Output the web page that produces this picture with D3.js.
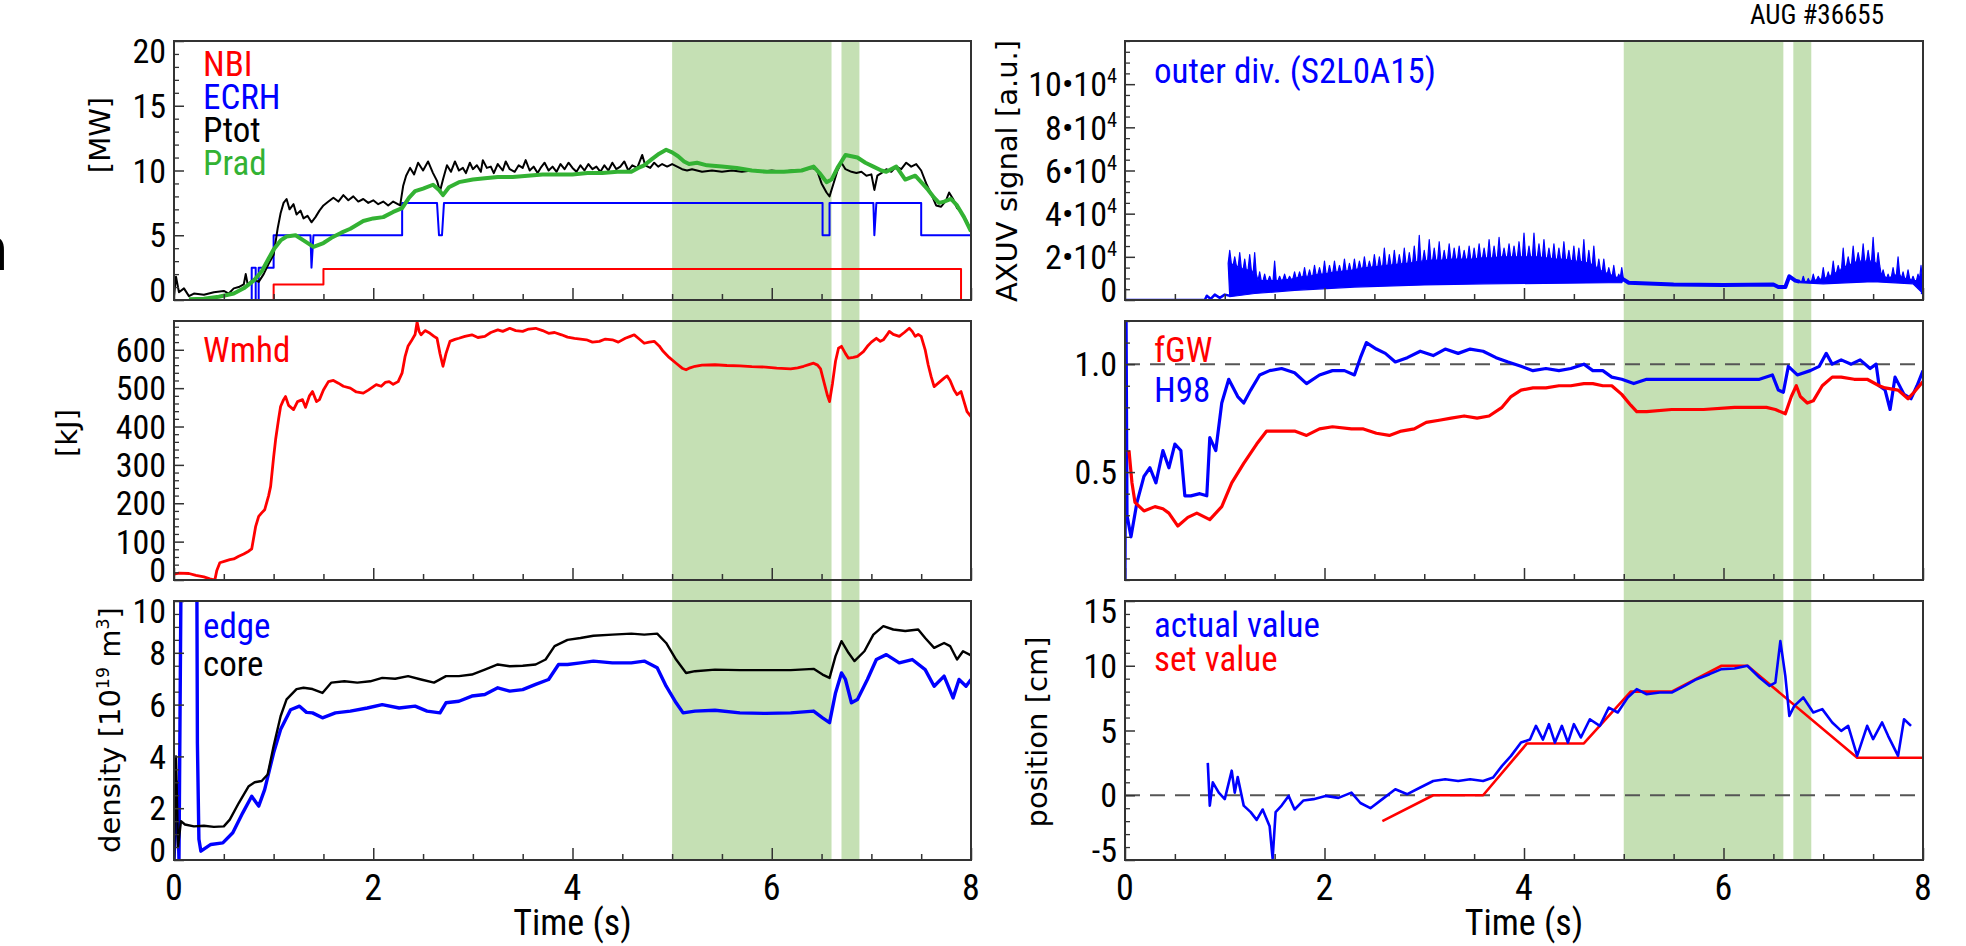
<!DOCTYPE html>
<html>
<head>
<meta charset="utf-8">
<script src="https://cdn.jsdelivr.net/npm/d3@7"></script>
<style>
  body { margin: 0; background: #fff; }
  svg text { font-family: "Liberation Sans Narrow", "Arial Narrow", "Roboto Condensed", "Liberation Sans", sans-serif; }
  svg text.axtitle { font-family: "DejaVu Sans", Verdana, sans-serif; }
</style>
</head>
<body>
<div id="chart"></div>
<script>
// ---- data ----
const timeTicks = [0, 2, 4, 6, 8];
const greenBands = [[5.0, 6.6], [6.7, 6.88]];

// panel 1: heating / radiated power [MW]
const powerTicks = [0, 5, 10, 15, 20];
const nbiPower = [[0,0],[1.0,0],[1.0,1.2],[1.5,1.2],[1.5,2.4],[7.9,2.4],[7.9,0],[8,0]];
const ecrhPower = [[0,0],[0.78,0],[0.78,2.5],[0.82,2.5],[0.82,0],[0.85,0],[0.85,2.5],[1.0,2.5],[1.0,5.0],[1.37,5.0],[1.38,2.5],[1.4,5.0],
  [2.29,5.0],[2.29,7.5],[2.64,7.5],[2.66,5.0],[2.69,5.0],[2.71,7.5],[6.51,7.5],[6.51,5.0],[6.58,5.0],[6.58,7.5],
  [7.02,7.5],[7.03,5.0],[7.05,7.5],[7.5,7.5],[7.5,5.0],[8.0,5.0]];
const ptotPower = [[0,0.3],[0.02,1.8],[0.05,0.6],[0.1,0.9],[0.15,0.3],[0.2,0.5],[0.3,0.4],[0.4,0.6],[0.5,0.7],[0.55,0.5],[0.6,0.9],
  [0.65,1.0],[0.7,1.2],[0.72,2.0],[0.74,1.2],[0.8,1.6],[0.85,1.4],[0.9,2.0],[0.95,2.8],[1.0,3.5],[1.04,5.5],[1.07,6.7],[1.1,7.5],
  [1.13,7.8],[1.16,7.0],[1.2,7.4],[1.23,6.6],[1.27,6.9],[1.3,6.3],[1.34,6.5],[1.38,6.0],[1.42,6.4],[1.46,6.9],[1.5,7.3],[1.55,7.6],
  [1.6,7.9],[1.65,7.6],[1.7,8.1],[1.75,7.7],[1.8,8.0],[1.85,7.6],[1.9,7.8],[1.95,7.5],[2.0,7.7],[2.05,7.4],[2.1,7.6],[2.15,7.3],
  [2.2,7.6],[2.27,7.3],[2.3,8.8],[2.33,9.6],[2.37,10.2],[2.41,9.7],[2.45,10.6],[2.5,10.0],[2.55,10.7],[2.6,9.8],[2.64,9.2],
  [2.67,8.4],[2.7,9.3],[2.74,10.4],[2.78,9.9],[2.82,10.7],[2.86,10.0],[2.9,10.2],[2.93,9.8],[2.97,10.6],[3.0,10.1],[3.04,10.4],
  [3.08,9.9],[3.1,10.8],[3.14,10.2],[3.18,10.3],[3.21,9.8],[3.25,10.5],[3.3,10.0],[3.33,10.7],[3.37,10.1],[3.42,9.9],[3.46,10.4],
  [3.5,10.2],[3.53,10.8],[3.57,10.0],[3.61,10.3],[3.65,9.8],[3.68,10.2],[3.72,10.6],[3.76,10.0],[3.8,10.3],[3.84,9.9],[3.88,10.5],
  [3.92,10.1],[3.96,10.6],[4.0,10.2],[4.04,9.9],[4.08,10.4],[4.12,10.0],[4.16,10.5],[4.2,10.1],[4.24,10.3],[4.28,9.9],[4.32,10.4],
  [4.36,10.0],[4.4,10.6],[4.44,10.1],[4.48,10.3],[4.52,10.7],[4.56,10.0],[4.6,10.4],[4.65,10.2],[4.7,11.2],[4.73,10.4],
  [4.78,10.2],[4.82,10.6],[4.86,10.3],[4.9,10.5],[4.95,10.3],[5.0,10.5],[5.05,10.3],[5.1,10.1],[5.15,10.0],[5.2,10.1],[5.3,9.9],
  [5.4,10.0],[5.5,9.9],[5.6,10.0],[5.7,9.9],[5.8,10.0],[5.9,9.9],[6.0,10.0],[6.1,9.9],[6.2,10.0],[6.3,10.0],[6.4,10.2],[6.45,10.1],
  [6.5,9.0],[6.55,8.3],[6.58,8.0],[6.62,9.0],[6.66,10.0],[6.7,10.6],[6.74,10.1],[6.8,9.9],[6.85,9.8],[6.9,9.9],[6.95,9.6],[7.0,9.7],
  [7.03,8.5],[7.06,9.6],[7.1,9.8],[7.15,10.1],[7.2,9.9],[7.25,10.3],[7.3,10.1],[7.35,10.6],[7.4,10.3],[7.45,10.5],[7.5,10.0],
  [7.55,9.0],[7.6,8.2],[7.65,7.3],[7.7,7.2],[7.75,7.7],[7.78,8.3],[7.82,7.8],[7.86,7.1],[7.9,6.8],[7.95,6.2],[8.0,5.4]];
const pradPower = [[0.15,0.05],[0.3,0.1],[0.45,0.25],[0.6,0.5],[0.7,0.9],[0.8,1.5],[0.88,2.2],[0.95,3.2],[1.0,3.9],[1.07,4.6],
  [1.13,4.9],[1.22,5.0],[1.3,4.6],[1.4,4.1],[1.5,4.4],[1.58,4.8],[1.68,5.2],[1.77,5.5],[1.9,6.1],[2.0,6.3],[2.1,6.4],[2.2,6.8],
  [2.29,7.1],[2.36,7.9],[2.42,8.4],[2.5,8.6],[2.6,8.9],[2.66,8.5],[2.7,8.1],[2.76,8.7],[2.86,9.1],[3.0,9.3],[3.12,9.4],[3.25,9.5],
  [3.4,9.5],[3.55,9.6],[3.7,9.7],[3.85,9.7],[4.0,9.7],[4.15,9.8],[4.3,9.8],[4.45,9.9],[4.59,9.9],[4.66,10.2],[4.72,10.4],[4.8,10.9],
  [4.87,11.3],[4.94,11.6],[5.0,11.4],[5.06,11.1],[5.12,10.7],[5.17,10.5],[5.25,10.6],[5.35,10.4],[5.5,10.3],[5.65,10.2],[5.8,10.0],
  [5.95,9.9],[6.12,9.9],[6.3,10.0],[6.42,10.3],[6.48,9.8],[6.55,9.1],[6.6,9.3],[6.66,10.2],[6.74,11.2],[6.8,11.1],[6.86,11.0],
  [6.94,10.6],[7.02,10.3],[7.1,10.0],[7.15,9.9],[7.25,10.3],[7.34,9.3],[7.44,9.6],[7.5,9.1],[7.57,8.5],[7.63,7.9],[7.68,7.5],
  [7.73,7.6],[7.8,7.8],[7.86,7.3],[7.93,6.4],[8.0,5.3]];

// panel 2: stored energy [kJ]
const wmhdTicks = [0, 100, 200, 300, 400, 500, 600];
const wmhdEnergy = [[0,15],[0.05,18],[0.15,17],[0.22,12],[0.3,8],[0.36,3],[0.41,0],[0.43,25],[0.46,45],[0.52,50],[0.56,53],
  [0.6,55],[0.65,62],[0.7,68],[0.75,75],[0.78,81],[0.82,140],[0.85,166],[0.88,175],[0.91,183],[0.95,220],[0.97,244],[1.0,320],
  [1.02,366],[1.05,420],[1.07,452],[1.1,470],[1.12,478],[1.15,455],[1.2,444],[1.24,465],[1.29,470],[1.32,450],[1.36,480],
  [1.39,491],[1.43,465],[1.46,470],[1.5,495],[1.55,517],[1.6,520],[1.65,513],[1.7,505],[1.77,500],[1.83,490],[1.9,487],
  [1.95,495],[2.03,509],[2.08,505],[2.12,515],[2.16,517],[2.2,510],[2.25,517],[2.29,540],[2.32,583],[2.35,610],[2.38,622],
  [2.42,640],[2.44,672],[2.46,648],[2.48,639],[2.52,650],[2.57,643],[2.61,635],[2.64,630],[2.67,590],[2.7,557],[2.73,590],
  [2.77,622],[2.82,627],[2.86,630],[2.92,635],[2.99,639],[3.05,632],[3.12,635],[3.18,645],[3.25,652],[3.3,648],[3.37,656],
  [3.43,650],[3.5,648],[3.56,654],[3.63,656],[3.7,650],[3.76,643],[3.82,645],[3.89,639],[3.95,633],[4.02,630],[4.08,628],
  [4.14,626],[4.2,620],[4.27,622],[4.33,628],[4.4,626],[4.46,620],[4.53,630],[4.58,635],[4.62,639],[4.67,628],[4.72,617],
  [4.77,620],[4.82,622],[4.87,610],[4.91,596],[4.97,580],[5.04,565],[5.1,552],[5.14,548],[5.18,553],[5.23,557],[5.3,560],
  [5.43,561],[5.55,559],[5.68,558],[5.8,556],[5.94,555],[6.05,552],[6.19,550],[6.26,553],[6.32,557],[6.38,562],[6.42,565],
  [6.46,560],[6.49,550],[6.53,510],[6.56,480],[6.58,465],[6.61,513],[6.64,570],[6.67,604],[6.7,609],[6.74,590],[6.77,578],
  [6.82,580],[6.86,583],[6.92,595],[6.96,609],[7.0,620],[7.05,630],[7.09,622],[7.12,626],[7.16,640],[7.18,648],[7.22,640],
  [7.28,635],[7.33,645],[7.38,656],[7.41,648],[7.44,635],[7.47,640],[7.5,635],[7.54,600],[7.57,561],[7.6,530],[7.63,504],
  [7.68,515],[7.73,526],[7.76,532],[7.79,520],[7.83,495],[7.86,483],[7.9,491],[7.93,465],[7.96,439],[8.0,426]];

// panel 3: density [1e19 m^-3]
const densTicks = [0, 2, 4, 6, 8, 10];
const coreDensity = [[0,0],[0.02,4.0],[0.04,0.5],[0.07,1.5],[0.11,1.37],[0.2,1.3],[0.3,1.32],[0.4,1.28],[0.5,1.3],[0.56,1.56],
  [0.65,2.2],[0.75,2.85],[0.81,3.0],[0.88,3.05],[0.94,3.3],[1.0,4.4],[1.07,5.55],[1.13,6.2],[1.23,6.6],[1.3,6.65],[1.39,6.6],
  [1.49,6.45],[1.58,6.85],[1.71,6.9],[1.84,6.85],[1.97,6.9],[2.09,7.03],[2.22,7.0],[2.35,7.1],[2.48,6.97],[2.61,6.85],[2.73,7.1],
  [2.86,7.1],[2.99,7.16],[3.12,7.35],[3.25,7.55],[3.37,7.48],[3.5,7.5],[3.63,7.55],[3.73,7.74],[3.82,8.26],[3.95,8.5],[4.08,8.57],
  [4.21,8.66],[4.4,8.7],[4.59,8.74],[4.72,8.7],[4.85,8.74],[4.94,8.38],[5.04,7.74],[5.14,7.22],[5.23,7.29],[5.43,7.35],[5.68,7.33],
  [5.94,7.33],[6.19,7.33],[6.42,7.38],[6.51,7.16],[6.58,7.03],[6.64,7.87],[6.7,8.45],[6.77,8.0],[6.83,7.68],[6.93,8.06],[7.02,8.7],
  [7.12,9.03],[7.22,8.9],[7.34,8.84],[7.47,8.9],[7.54,8.57],[7.63,8.19],[7.73,8.38],[7.79,8.26],[7.86,7.74],[7.92,8.06],[8.0,7.9]];
const edgeDensity = [[0,0],[0.03,3.0],[0.05,0],[0.07,10.6],[0.08,11],[0.22,11],[0.23,10.2],[0.235,4.5],[0.25,0.8],[0.27,0.34],
  [0.37,0.6],[0.49,0.66],[0.59,1.05],[0.69,1.82],[0.78,2.46],[0.85,2.08],[0.91,2.72],[1.0,4.14],[1.07,5.04],[1.17,5.8],[1.26,5.94],
  [1.33,5.7],[1.39,5.68],[1.49,5.49],[1.62,5.68],[1.77,5.75],[1.94,5.87],[2.09,6.0],[2.26,5.87],[2.42,5.94],[2.54,5.75],[2.67,5.68],
  [2.73,6.07],[2.86,6.13],[2.99,6.33],[3.12,6.39],[3.25,6.65],[3.37,6.52],[3.5,6.58],[3.63,6.78],[3.76,6.97],[3.86,7.55],[3.95,7.55],
  [4.08,7.61],[4.21,7.68],[4.4,7.61],[4.59,7.61],[4.72,7.68],[4.85,7.42],[4.94,6.71],[5.04,6.07],[5.11,5.68],[5.23,5.75],[5.43,5.78],
  [5.68,5.68],[5.94,5.66],[6.19,5.68],[6.42,5.75],[6.51,5.49],[6.58,5.3],[6.64,6.45],[6.7,7.22],[6.74,6.97],[6.8,6.07],[6.86,6.2],
  [6.96,6.97],[7.05,7.74],[7.15,7.93],[7.28,7.61],[7.41,7.74],[7.54,7.35],[7.63,6.71],[7.73,7.1],[7.82,6.26],[7.88,6.97],[7.95,6.71],[8.0,6.97]];

// panel 4: AXUV outer divertor signal, in units of 1e4
const axuvTicks = [0, 2, 4, 6, 8, 10];
const axuvTickLabels = ["0", "2•10^4", "4•10^4", "6•10^4", "8•10^4", "10•10^4"];
const axuvQuiet = [[0,0],[0.8,0],[0.82,0.2],[0.86,0.05],[0.9,0.25],[0.95,0.1],[1.0,0.25],[1.05,0.2]];
const axuvQuietLate = [[4.98,1.0],[5.05,0.8],[5.5,0.72],[6.0,0.7],[6.5,0.72],[6.55,0.6],[6.62,0.6],[6.66,1.1],[6.72,0.9],[6.76,0.85]];
// [time, spike top, top of the dense part]
const axuvSpikesEarly = [[1.05,2.3,1.7],[1.1,2.0,1.6],[1.15,2.2,1.5],[1.2,1.9,1.4],[1.25,2.1,1.4],[1.3,2.2,1.2],[1.35,1.3,0.9],
  [1.4,1.2,0.9],[1.45,1.1,0.9],[1.5,1.8,0.9],[1.55,1.1,0.9],[1.6,1.2,0.95],[1.65,1.1,0.95],[1.7,1.3,1.0],[1.75,1.3,1.05],
  [1.8,1.5,1.1],[1.85,1.4,1.1],[1.9,1.6,1.15],[1.95,1.5,1.2],[2.0,1.8,1.2],[2.05,1.6,1.25],[2.1,1.8,1.3],[2.15,1.6,1.3],
  [2.2,1.9,1.35],[2.25,1.7,1.35],[2.3,1.9,1.4],[2.35,1.8,1.45],[2.4,2.0,1.5],[2.45,1.8,1.5],[2.5,2.1,1.55],[2.55,2.0,1.55],
  [2.6,2.4,1.6],[2.65,2.1,1.6],[2.7,2.3,1.65],[2.75,2.1,1.65],[2.8,2.4,1.7],[2.85,2.2,1.7],[2.9,2.5,1.75],[2.95,3.0,1.8],
  [3.0,2.3,1.8],[3.05,2.8,1.85],[3.1,2.4,1.85],[3.15,2.7,1.85],[3.2,2.3,1.85],[3.25,2.6,1.9],[3.3,2.4,1.9],[3.35,2.5,1.9],
  [3.4,2.3,1.9],[3.45,2.5,1.9],[3.5,2.4,1.9],[3.55,2.6,1.95],[3.6,2.4,1.95],[3.65,2.8,1.95],[3.7,2.5,1.95],[3.75,2.9,2.0],
  [3.8,2.4,2.0],[3.85,2.6,2.0],[3.9,2.5,2.0],[3.95,2.7,2.0],[4.0,3.1,2.0],[4.05,2.5,2.0],[4.1,3.1,2.0],[4.15,2.6,2.0],
  [4.2,2.8,1.95],[4.25,2.4,1.95],[4.3,2.6,1.9],[4.35,2.4,1.9],[4.4,2.7,1.9],[4.45,2.3,1.85],[4.5,2.5,1.8],[4.55,2.4,1.8],
  [4.6,2.8,1.75],[4.65,2.3,1.7],[4.7,2.5,1.6],[4.75,1.9,1.4],[4.8,1.9,1.3],[4.85,1.5,1.2],[4.9,1.6,1.1],[4.95,1.2,1.0],[4.98,1.5,1.0]];
const axuvFloorEarly = [[1.05,0.15],[1.3,0.3],[1.7,0.45],[2.3,0.6],[3.0,0.7],[3.6,0.75],[4.2,0.77],[4.85,0.8],[4.98,0.8]];
const axuvSpikesLate = [[6.76,0.9,0.85],[6.8,1.1,0.85],[6.85,1.0,0.85],[6.9,1.2,0.9],[6.95,1.1,0.95],[7.0,1.5,1.0],[7.05,1.3,1.05],
  [7.1,1.8,1.2],[7.15,1.6,1.3],[7.2,2.4,1.5],[7.25,2.0,1.6],[7.3,2.5,1.7],[7.35,2.2,1.8],[7.4,2.6,1.8],[7.45,2.3,1.8],[7.5,2.9,1.8],
  [7.55,2.2,1.6],[7.6,1.4,1.1],[7.65,1.2,1.0],[7.7,1.5,1.1],[7.75,2.0,1.2],[7.8,1.3,1.0],[7.85,1.4,1.0],[7.9,1.1,0.9],[7.95,1.2,0.9],
  [7.98,1.6,0.9],[8.0,0.3,0.3]];
const axuvFloorLate = [[6.76,0.8],[7.0,0.75],[7.5,0.85],[7.9,0.75],[8.0,0.3]];

// panel 5: Greenwald fraction and confinement factor
const confTicks = [0.5, 1.0];
const confTickLabels = ["0.5", "1.0"];
const fgwFraction = [[0.04,0.6],[0.07,0.45],[0.1,0.36],[0.19,0.32],[0.3,0.34],[0.38,0.33],[0.44,0.31],[0.53,0.25],[0.63,0.29],
  [0.72,0.31],[0.85,0.28],[0.97,0.34],[1.07,0.45],[1.19,0.54],[1.32,0.63],[1.42,0.69],[1.57,0.69],[1.7,0.69],[1.82,0.67],[1.95,0.7],
  [2.08,0.71],[2.27,0.7],[2.39,0.7],[2.52,0.68],[2.65,0.67],[2.77,0.69],[2.9,0.7],[3.02,0.73],[3.15,0.74],[3.27,0.75],[3.4,0.76],
  [3.53,0.75],[3.65,0.76],[3.78,0.8],[3.87,0.85],[3.97,0.88],[4.09,0.89],[4.22,0.89],[4.35,0.9],[4.47,0.9],[4.6,0.91],[4.69,0.91],
  [4.79,0.9],[4.88,0.9],[4.98,0.86],[5.07,0.81],[5.13,0.78],[5.23,0.78],[5.48,0.79],[5.8,0.79],[6.11,0.8],[6.43,0.8],[6.52,0.79],
  [6.62,0.77],[6.68,0.85],[6.73,0.9],[6.77,0.85],[6.84,0.82],[6.9,0.83],[6.99,0.9],[7.09,0.94],[7.18,0.94],[7.31,0.93],[7.44,0.93],
  [7.56,0.9],[7.62,0.89],[7.75,0.88],[7.85,0.84],[7.91,0.87],[8.0,0.92]];
const h98Factor = [[0.0,0.0],[0.01,1.3],[0.02,0.3],[0.06,0.2],[0.12,0.36],[0.19,0.48],[0.25,0.52],[0.31,0.45],[0.38,0.6],[0.44,0.52],
  [0.5,0.63],[0.56,0.6],[0.6,0.39],[0.66,0.39],[0.75,0.4],[0.82,0.39],[0.85,0.66],[0.91,0.6],[0.97,0.82],[1.04,0.93],[1.13,0.85],
  [1.19,0.82],[1.26,0.88],[1.35,0.95],[1.45,0.97],[1.57,0.98],[1.7,0.96],[1.82,0.91],[1.95,0.95],[2.08,0.97],[2.2,0.97],[2.3,0.95],
  [2.36,1.03],[2.42,1.1],[2.52,1.07],[2.61,1.05],[2.71,1.01],[2.83,1.03],[2.96,1.06],[3.09,1.04],[3.21,1.07],[3.34,1.05],[3.46,1.07],
  [3.59,1.06],[3.72,1.03],[3.84,1.01],[3.97,0.99],[4.09,0.97],[4.22,0.98],[4.35,0.97],[4.47,0.98],[4.6,1.0],[4.69,0.97],[4.79,0.97],
  [4.88,0.94],[4.98,0.93],[5.1,0.91],[5.23,0.93],[5.48,0.93],[5.8,0.93],[6.11,0.93],[6.36,0.93],[6.49,0.95],[6.55,0.88],[6.6,0.87],
  [6.65,0.99],[6.74,0.95],[6.87,0.97],[6.96,0.99],[7.03,1.05],[7.09,1.0],[7.18,1.02],[7.28,1.0],[7.37,1.02],[7.47,0.98],[7.53,1.0],
  [7.56,0.9],[7.62,0.88],[7.67,0.79],[7.72,0.94],[7.81,0.86],[7.88,0.84],[7.94,0.9],[8.0,0.97]];

// panel 6: strike-point position [cm]
const posTicks = [-5, 0, 5, 10, 15];
const setPosition = [[2.58,-2.0],[3.09,0],[3.59,0],[4.03,4.0],[4.6,4.0],[5.07,8.0],[5.48,8.0],[5.98,10.0],[6.24,10.0],[7.34,2.9],[8.0,2.9]];
const actualPosition = [[0.83,2.5],[0.85,-0.8],[0.88,1.0],[0.94,0.2],[1.0,-0.3],[1.07,1.9],[1.1,0.2],[1.13,1.4],[1.19,-0.8],
  [1.26,-1.3],[1.32,-1.9],[1.38,-1.1],[1.45,-2.4],[1.48,-4.9],[1.51,-1.3],[1.57,-0.8],[1.64,-0.05],[1.7,-1.1],[1.79,-0.4],[1.89,-0.3],
  [2.01,-0.05],[2.14,-0.2],[2.27,0.2],[2.36,-0.6],[2.46,-1.0],[2.58,-0.3],[2.71,0.46],[2.83,0.08],[2.96,0.6],[3.09,1.1],[3.21,1.24],
  [3.34,1.1],[3.46,1.24],[3.59,1.1],[3.69,1.37],[3.78,2.27],[3.87,3.04],[3.97,4.07],[4.06,4.3],[4.12,5.36],[4.19,4.3],[4.25,5.49],
  [4.31,4.07],[4.38,5.36],[4.44,4.07],[4.5,5.49],[4.57,4.46],[4.66,5.87],[4.76,5.36],[4.85,6.77],[4.94,6.39],[5.04,7.55],[5.13,8.19],
  [5.23,7.8],[5.36,7.93],[5.48,7.93],[5.61,8.45],[5.73,8.96],[5.86,9.35],[5.98,9.74],[6.11,9.79],[6.24,10.0],[6.36,9.09],[6.46,8.45],
  [6.52,8.7],[6.57,11.9],[6.62,9.2],[6.66,6.13],[6.71,6.9],[6.8,7.55],[6.9,6.39],[6.99,6.65],[7.09,5.62],[7.18,4.97],[7.25,5.36],
  [7.34,3.04],[7.44,5.36],[7.5,4.33],[7.59,5.62],[7.65,4.59],[7.75,3.04],[7.81,5.87],[7.88,5.36]];

// ---- layout ----
const RED = "#ff0000", BLUE = "#0000ff", BLACK = "#000000", GREEN = "#33b233";
const BAND_COLOR = "#c5e0b4";
const colX = [[174, 971], [1125, 1923]];
const rowY = [[41, 300], [321, 580], [601, 860]];
const TICK_FS = 34, LEGEND_FS = 35, TIME_FS = 36, TITLE_FS = 29;

const svg = d3.select("#chart").append("svg")
  .attr("width", 1966).attr("height", 946);

const xScales = colX.map(r => d3.scaleLinear().domain([0, 8]).range(r));

// green shaded time windows, spanning the whole column
xScales.forEach(x => {
  svg.append("g").selectAll("rect")
    .data(greenBands)
    .join("rect")
    .attr("x", d => x(d[0]))
    .attr("width", d => x(d[1]) - x(d[0]))
    .attr("y", rowY[0][0])
    .attr("height", rowY[2][1] - rowY[0][0])
    .attr("fill", BAND_COLOR);
});

const panels = [
  { id: 1, col: 0, row: 0, domain: [0, 20], ticks: powerTicks, minor: 1, refLine: 0,
    title: ["[MW]"], titlePos: [100, 135],
    legend: [["NBI", RED], ["ECRH", BLUE], ["Ptot", BLACK], ["Prad", GREEN]], legendY: [76, 109, 142, 175],
    series: [
      { data: nbiPower, color: RED, width: 2 },
      { data: ecrhPower, color: BLUE, width: 2 },
      { data: ptotPower, color: BLACK, width: 2 },
      { data: pradPower, color: GREEN, width: 4 }
    ] },
  { id: 2, col: 0, row: 1, domain: [0, 675], ticks: wmhdTicks, minor: 20, refLine: 0,
    title: ["[kJ]"], titlePos: [67, 433],
    legend: [["Wmhd", RED]], legendY: [362],
    series: [{ data: wmhdEnergy, color: RED, width: 2.8 }] },
  { id: 3, col: 0, row: 2, domain: [0, 10], ticks: densTicks, minor: 0.5, refLine: 0,
    title: ["density [10", "^19", " m", "^3", "]"], titlePos: [110, 730],
    legend: [["edge", BLUE], ["core", BLACK]], legendY: [638, 676],
    series: [
      { data: edgeDensity, color: BLUE, width: 3.4 },
      { data: coreDensity, color: BLACK, width: 2.4 }
    ] },
  { id: 4, col: 1, row: 0, domain: [0, 12], ticks: axuvTicks, tickLabels: axuvTickLabels, minor: 0.5, refLine: 0,
    title: ["AXUV signal [a.u.]"], titlePos: [1007, 171],
    legend: [["outer div. (S2L0A15)", BLUE]], legendY: [83],
    spikes: [
      { peaks: axuvSpikesEarly, floor: axuvFloorEarly, color: BLUE },
      { peaks: axuvSpikesLate, floor: axuvFloorLate, color: BLUE }
    ],
    series: [
      { data: axuvQuiet, color: BLUE, width: 2.5 },
      { data: axuvQuietLate, color: BLUE, width: 4 }
    ] },
  { id: 5, col: 1, row: 1, domain: [0, 1.2], ticks: confTicks, tickLabels: confTickLabels, minor: 0.1, refLine: 1.0,
    title: null,
    legend: [["fGW", RED], ["H98", BLUE]], legendY: [362, 402],
    series: [
      { data: h98Factor, color: BLUE, width: 3.2 },
      { data: fgwFraction, color: RED, width: 3.2 }
    ] },
  { id: 6, col: 1, row: 2, domain: [-5, 15], ticks: posTicks, minor: 1, refLine: 0,
    title: ["position [cm]"], titlePos: [1037, 732],
    legend: [["actual value", BLUE], ["set value", RED]], legendY: [637, 671],
    series: [
      { data: setPosition, color: RED, width: 2.6 },
      { data: actualPosition, color: BLUE, width: 2.6 }
    ] }
];

// text with "^" marking a superscript part
function writeRich(sel, parts, fs) {
  let raised = false;
  parts.forEach(p => {
    if (p.startsWith("^")) {
      sel.append("tspan").attr("font-size", fs * 0.6).attr("dy", -fs * 0.38).text(p.slice(1));
      raised = true;
    } else {
      const t = sel.append("tspan").attr("font-size", fs).text(p);
      if (raised) { t.attr("dy", fs * 0.38); raised = false; }
    }
  });
}

panels.forEach(p => {
  const x = xScales[p.col];
  const [top, bottom] = rowY[p.row];
  const [left, right] = x.range();
  const y = d3.scaleLinear().domain(p.domain).range([bottom, top]);
  const g = svg.append("g");

  svg.append("clipPath").attr("id", "clip" + p.id)
    .append("rect")
    .attr("x", left).attr("y", top)
    .attr("width", right - left).attr("height", bottom - top);

  const plot = g.append("g").attr("clip-path", `url(#clip${p.id})`);

  // dashed reference line
  plot.append("line")
    .attr("x1", left).attr("x2", right)
    .attr("y1", y(p.refLine)).attr("y2", y(p.refLine))
    .attr("stroke", "#555").attr("stroke-width", 2)
    .attr("stroke-dasharray", "15,10");

  // spiky filled signal: dense part plus narrow spikes on top
  (p.spikes || []).forEach(a => {
    const pts = [];
    a.peaks.forEach(d => {
      pts.push([x(d[0] - 0.016), y(d[2])]);
      pts.push([x(d[0]), y(d[1])]);
      pts.push([x(d[0] + 0.016), y(d[2])]);
    });
    a.floor.slice().reverse().forEach(d => pts.push([x(d[0]), y(d[1])]));
    plot.append("path")
      .attr("d", d3.line()(pts) + "Z")
      .attr("fill", a.color)
      .attr("stroke", a.color)
      .attr("stroke-width", 1.2)
      .attr("stroke-linejoin", "round");
  });

  const line = d3.line().x(d => x(d[0])).y(d => y(d[1]));
  p.series.forEach(s => {
    plot.append("path")
      .datum(s.data)
      .attr("d", line)
      .attr("fill", "none")
      .attr("stroke", s.color)
      .attr("stroke-width", s.width)
      .attr("stroke-linejoin", "round");
  });

  // x ticks, pointing into the panel
  const minorT = d3.range(0.5, 8, 0.5).filter(t => t % 2 !== 0);
  g.append("g")
    .attr("transform", `translate(0,${bottom})`)
    .call(d3.axisBottom(x).tickValues(minorT).tickSize(-6).tickFormat(""))
    .call(a => a.select(".domain").remove())
    .call(a => a.selectAll("line").attr("stroke", "#333").attr("stroke-width", 1.5));
  g.append("g")
    .attr("transform", `translate(0,${bottom})`)
    .call(d3.axisBottom(x).tickValues(timeTicks).tickSize(-12).tickFormat(""))
    .call(a => a.select(".domain").remove())
    .call(a => a.selectAll("line").attr("stroke", "#333").attr("stroke-width", 1.5));

  // y ticks
  const minorY = d3.range(p.domain[0], p.domain[1] + 1e-9, p.minor)
    .filter(v => !p.ticks.some(t => Math.abs(t - v) < 1e-9));
  g.append("g")
    .attr("transform", `translate(${left},0)`)
    .call(d3.axisLeft(y).tickValues(minorY).tickSize(-5).tickFormat(""))
    .call(a => a.select(".domain").remove())
    .call(a => a.selectAll("line").attr("stroke", "#333").attr("stroke-width", 1.3));
  g.append("g")
    .attr("transform", `translate(${left},0)`)
    .call(d3.axisLeft(y).tickValues(p.ticks).tickSize(-10).tickFormat(""))
    .call(a => a.select(".domain").remove())
    .call(a => a.selectAll("line").attr("stroke", "#333").attr("stroke-width", 1.5));

  // frame
  g.append("rect")
    .attr("x", left).attr("y", top)
    .attr("width", right - left).attr("height", bottom - top)
    .attr("fill", "none").attr("stroke", "#333").attr("stroke-width", 2);

  // y tick labels, kept inside the panel's height
  p.ticks.forEach((t, i) => {
    const cy = Math.min(Math.max(y(t), top + 10), bottom - 10);
    const label = p.tickLabels ? p.tickLabels[i] : String(t);
    const txt = g.append("text")
      .attr("x", left - 8).attr("y", cy + TICK_FS * 0.36)
      .attr("text-anchor", "end")
      .attr("font-size", TICK_FS)
      .attr("fill", "#000");
    writeRich(txt, label.split(/(?=\^)/), TICK_FS);
  });

  // legend
  p.legend.forEach((l, i) => {
    g.append("text")
      .attr("x", left + 29).attr("y", p.legendY[i])
      .attr("font-size", LEGEND_FS)
      .attr("fill", l[1])
      .text(l[0]);
  });

  // y axis title
  if (p.title) {
    const tt = g.append("text")
      .attr("class", "axtitle")
      .attr("transform", `translate(${p.titlePos[0]},${p.titlePos[1]}) rotate(-90)`)
      .attr("text-anchor", "middle")
      .attr("dy", "0.35em")
      .attr("font-size", TITLE_FS)
      .attr("fill", "#000");
    writeRich(tt, p.title, TITLE_FS);
  }

  // time axis labels under the bottom row
  if (p.row === 2) {
    g.selectAll(".xlab")
      .data(timeTicks)
      .join("text")
      .attr("x", d => x(d))
      .attr("y", bottom + 40)
      .attr("text-anchor", "middle")
      .attr("font-size", TIME_FS)
      .text(d => d);
    g.append("text")
      .attr("x", (left + right) / 2)
      .attr("y", bottom + 75)
      .attr("text-anchor", "middle")
      .attr("font-size", TIME_FS)
      .text("Time (s)");
  }
});

// shot number
svg.append("text")
  .attr("x", 1884).attr("y", 24)
  .attr("text-anchor", "end")
  .attr("font-size", 27)
  .text("AUG #36655");

// cut-off panel letter at the left edge
svg.append("text")
  .attr("x", 7).attr("y", 270)
  .attr("text-anchor", "end")
  .attr("font-family", "DejaVu Sans")
  .attr("font-weight", "bold")
  .attr("font-size", 62)
  .text("n");
</script>
</body>
</html>
